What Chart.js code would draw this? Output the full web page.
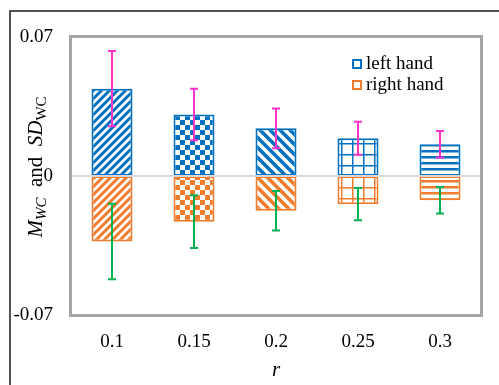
<!DOCTYPE html>
<html>
<head>
<meta charset="utf-8">
<script src="https://cdn.jsdelivr.net/npm/chart.js@4"></script>
<style>
  html, body { margin: 0; padding: 0; background: #fff; }
  #wrap { width: 499px; height: 385px; position: relative; }
</style>
</head>
<body>
<div id="wrap"><canvas id="chart" width="499" height="385"></canvas></div>
<script>
// r values on the x axis
const categories = ['0.1', '0.15', '0.2', '0.25', '0.3'];
// mean and SD of WC per hand
const leftMean  = [0.044, 0.031, 0.024, 0.019, 0.016];
const leftSD    = [0.019, 0.013, 0.010, 0.0083, 0.0067];
const rightMean = [-0.033, -0.023, -0.0175, -0.0142, -0.0122];
const rightSD   = [0.019, 0.0133, 0.010, 0.0081, 0.0067];
const yTicks = [-0.07, 0, 0.07];
const seriesNames = ['left hand', 'right hand'];

const BLUE = '#0070C0';
const ORANGE = '#F07C2C';
const MAGENTA = '#FF33CC';
const GREEN = '#00B050';
const SERIF = '"Liberation Serif", "Times New Roman", serif';

// one hatch style per r value
const hatchKinds = ['up', 'checker', 'down', 'grid', 'hstripe'];

function makePattern(kind, color) {
  const c = document.createElement('canvas');
  const g = c.getContext('2d');
  let s = 8;
  if (kind === 'up') s = 8;
  if (kind === 'checker') s = 10;
  if (kind === 'down') s = 10;
  if (kind === 'grid') s = 11;
  if (kind === 'hstripe') s = 6;
  c.width = s; c.height = s;
  g.fillStyle = '#fff';
  g.fillRect(0, 0, s, s);
  g.fillStyle = color;
  g.strokeStyle = color;
  if (kind === 'up') {
    g.lineWidth = 3;
    g.beginPath();
    g.moveTo(-2, s + 2); g.lineTo(s + 2, -2);
    g.moveTo(-2, 2); g.lineTo(2, -2);
    g.moveTo(s - 2, s + 2); g.lineTo(s + 2, s - 2);
    g.stroke();
  } else if (kind === 'down') {
    g.lineWidth = 3.6;
    g.beginPath();
    g.moveTo(-2, -2); g.lineTo(s + 2, s + 2);
    g.moveTo(s - 2, -2); g.lineTo(s + 2, 2);
    g.moveTo(-2, s - 2); g.lineTo(2, s + 2);
    g.stroke();
  } else if (kind === 'checker') {
    g.fillRect(0, 0, s / 2, s / 2);
    g.fillRect(s / 2, s / 2, s / 2, s / 2);
  } else if (kind === 'grid') {
    g.fillRect(0, 0, 1.5, s);
    g.fillRect(0, 0, s, 1.5);
  } else if (kind === 'hstripe') {
    g.fillRect(0, 0, s, 2.5);
  }
  return g.createPattern(c, 'repeat');
}

const ctx = document.getElementById('chart').getContext('2d');
const bluePatterns = hatchKinds.map(k => makePattern(k, BLUE));
const orangePatterns = hatchKinds.map(k => makePattern(k, ORANGE));

// frame, plot border, zero line, error bars, legend and axis titles
const decorations = {
  id: 'decorations',
  beforeDraw(chart) {
    const c = chart.ctx;
    c.save();
    c.fillStyle = '#fff';
    c.fillRect(0, 0, chart.width, chart.height);
    c.strokeStyle = '#1a1a1a';
    c.lineWidth = 1.5;
    c.beginPath();
    c.moveTo(10, chart.height);
    c.lineTo(10, 11);
    c.lineTo(chart.width, 11);
    c.stroke();
    c.restore();
  },
  afterDatasetsDraw(chart) {
    const c = chart.ctx;
    const a = chart.chartArea;
    const y = chart.scales.y;
    c.save();
    // zero line
    c.strokeStyle = '#D9D9D9';
    c.lineWidth = 2;
    c.beginPath();
    c.moveTo(a.left, y.getPixelForValue(0));
    c.lineTo(a.right, y.getPixelForValue(0));
    c.stroke();
    // error bars
    const sets = [[leftMean, leftSD, MAGENTA], [rightMean, rightSD, GREEN]];
    sets.forEach(([m, sd, col], di) => {
      const meta = chart.getDatasetMeta(di);
      c.strokeStyle = col;
      c.lineWidth = 2;
      meta.data.forEach((bar, i) => {
        const x = Math.round(bar.x);
        const y1 = y.getPixelForValue(m[i] + sd[i]);
        const y2 = y.getPixelForValue(m[i] - sd[i]);
        c.beginPath();
        c.moveTo(x, y1); c.lineTo(x, y2);
        c.moveTo(x - 4, y1); c.lineTo(x + 4, y1);
        c.moveTo(x - 4, y2); c.lineTo(x + 4, y2);
        c.stroke();
      });
    });
    c.restore();
  },
  afterDraw(chart) {
    const c = chart.ctx;
    const a = chart.chartArea;
    c.save();
    // plot area border
    c.strokeStyle = '#A6A6A6';
    c.lineWidth = 3;
    c.strokeRect(a.left - 0.5, a.top - 0.5, a.right - a.left + 1, a.bottom - a.top + 1);

    // legend
    c.font = '19px ' + SERIF;
    c.textBaseline = 'alphabetic';
    c.fillStyle = '#000';
    chart.data.datasets.forEach((ds, i) => {
      const ty = 69 + i * 21;
      c.strokeStyle = ds.borderColor;
      c.lineWidth = 2;
      c.strokeRect(353, ty - 9, 8, 8);
      c.fillStyle = '#000';
      c.textAlign = 'left';
      c.fillText(ds.label, 366, ty);
    });

    // x title
    c.font = 'italic 21px ' + SERIF;
    c.textAlign = 'center';
    c.fillText('r', (a.left + a.right) / 2, 376);

    // y title, rotated
    const segs = [
      { t: 'M', f: 'italic 21px ' + SERIF, dy: 0 },
      { t: 'WC', f: 'italic 15px ' + SERIF, dy: 4 },
      { t: '  and  ', f: '21px ' + SERIF, dy: 0 },
      { t: 'SD', f: 'italic 21px ' + SERIF, dy: 0 },
      { t: 'WC', f: '15px ' + SERIF, dy: 4 }
    ];
    let total = 0;
    segs.forEach(s => { c.font = s.f; s.w = c.measureText(s.t).width; total += s.w; });
    c.translate(42, 167);
    c.rotate(-Math.PI / 2);
    c.textAlign = 'left';
    let x = -total / 2;
    segs.forEach(s => {
      c.font = s.f;
      c.fillText(s.t, x, s.dy);
      x += s.w;
    });
    c.restore();
  }
};

new Chart(ctx, {
  type: 'bar',
  data: {
    labels: categories,
    datasets: [
      {
        label: seriesNames[0],
        data: leftMean,
        backgroundColor: bluePatterns,
        borderColor: BLUE,
        borderWidth: 2,
        borderSkipped: false
      },
      {
        label: seriesNames[1],
        data: rightMean,
        backgroundColor: orangePatterns,
        borderColor: ORANGE,
        borderWidth: 2,
        borderSkipped: false
      }
    ]
  },
  options: {
    responsive: false,
    animation: false,
    devicePixelRatio: 1,
    layout: { padding: { left: 0, top: 37, right: 18, bottom: 0 } },
    datasets: { bar: { categoryPercentage: 1, barPercentage: 0.5 } },
    plugins: {
      legend: { display: false },
      tooltip: { enabled: false }
    },
    scales: {
      x: {
        stacked: true,
        grid: { display: false, drawTicks: false },
        border: { display: false },
        ticks: {
          color: '#000',
          padding: 16,
          font: { family: SERIF, size: 19 },
          maxRotation: 0
        },
        afterFit(scale) { scale.height = 70; }
      },
      y: {
        stacked: true,
        min: -0.07,
        max: 0.07,
        grid: { display: false, drawTicks: false },
        border: { display: false },
        afterBuildTicks(scale) { scale.ticks = yTicks.map(v => ({ value: v })); },
        ticks: {
          color: '#000',
          padding: 18,
          font: { family: SERIF, size: 19 },
          callback: v => (v === 0 ? '0' : v.toFixed(2))
        },
        afterFit(scale) { scale.width = 71; }
      }
    }
  },
  plugins: [decorations]
});
</script>
</body>
</html>
